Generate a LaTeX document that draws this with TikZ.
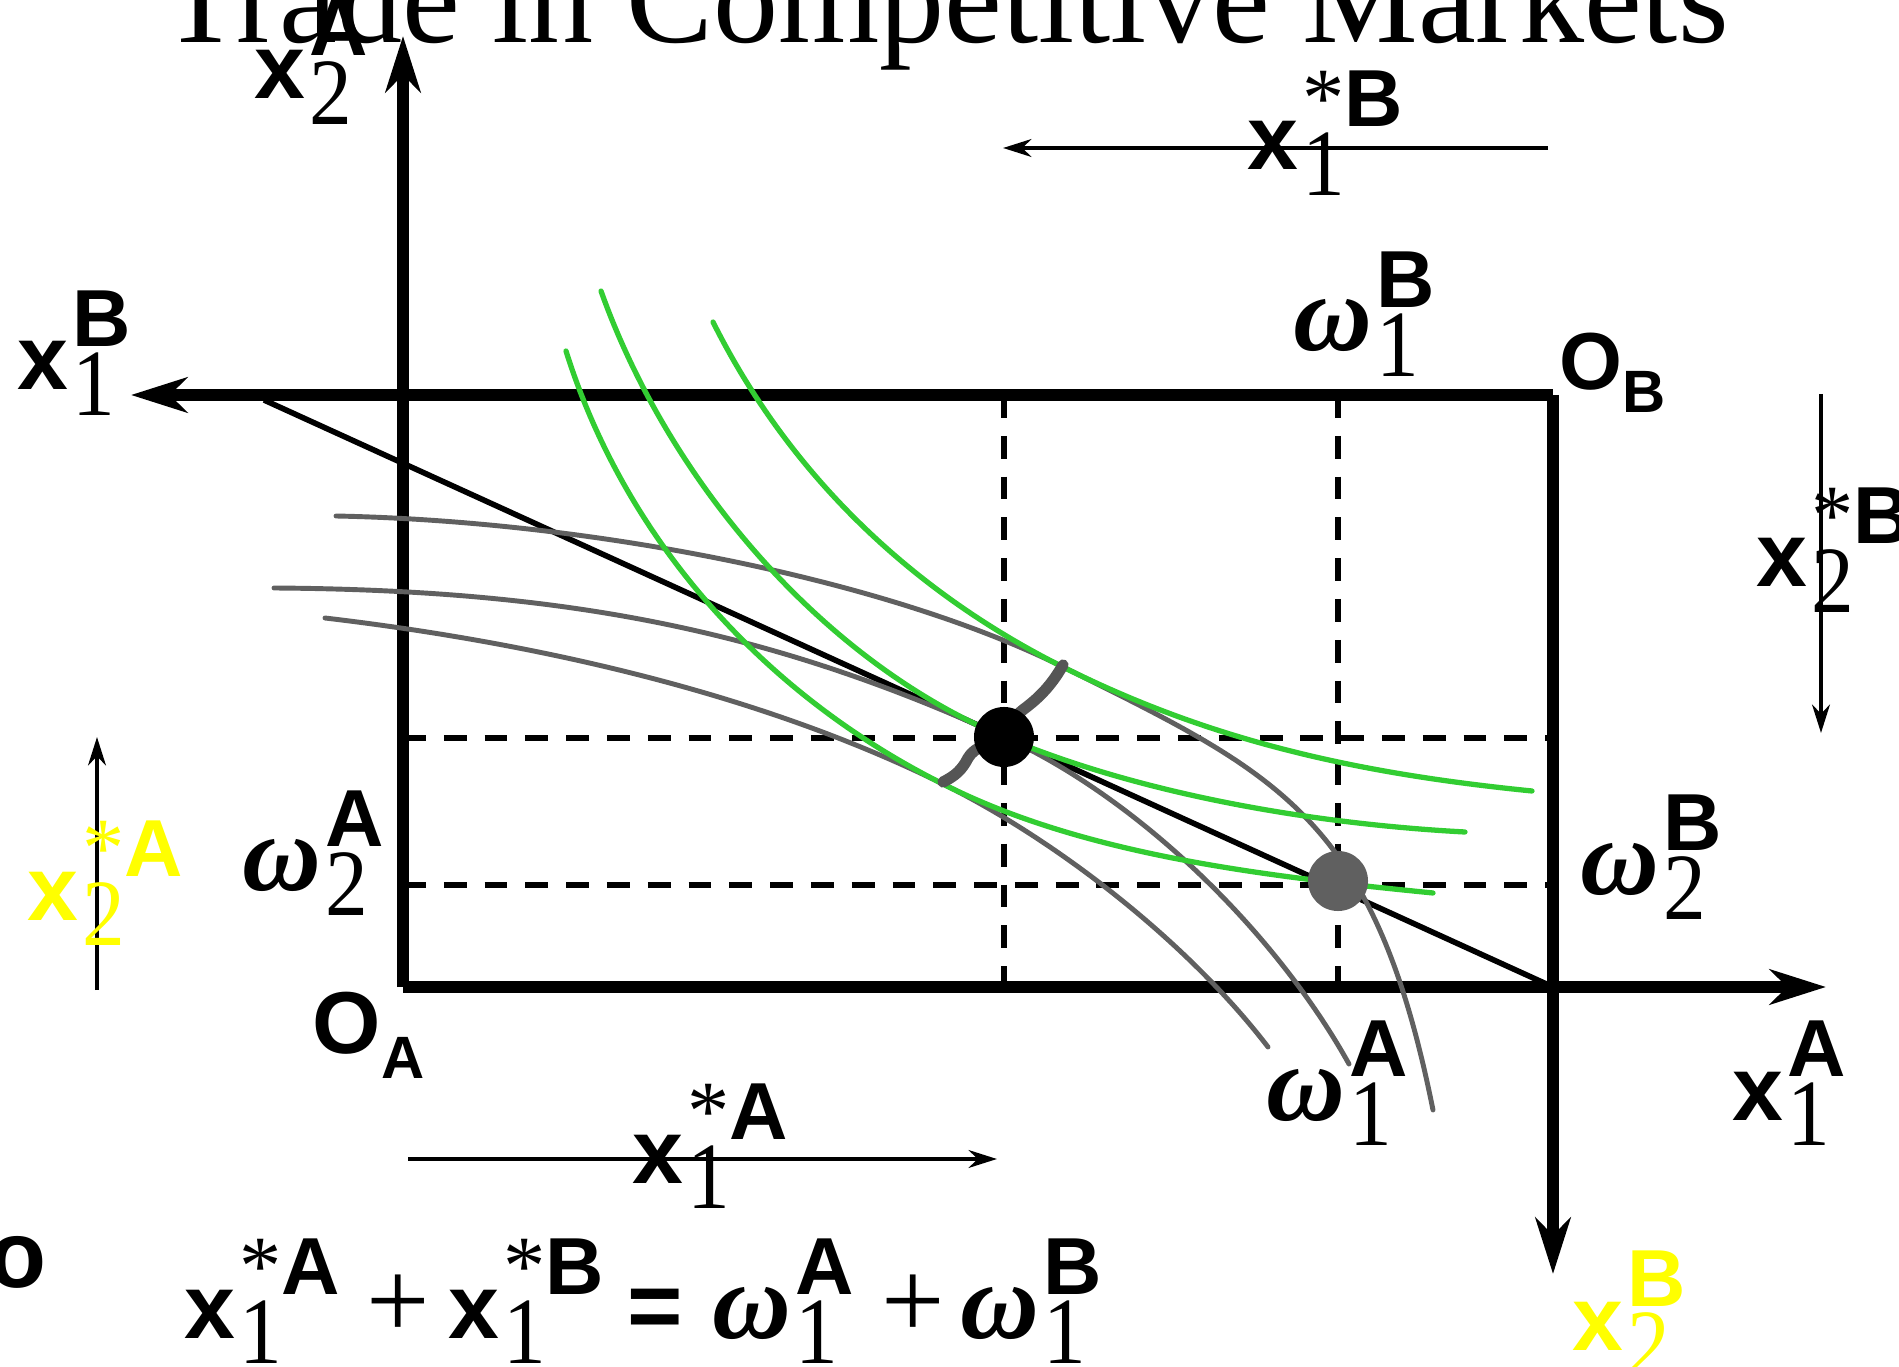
\documentclass[tikz,border=0pt]{standalone}
\usepackage{fontspec}
\usetikzlibrary{arrows.meta}
\newfontfamily\LS{Liberation Sans}
\newfontfamily\LSerif{Liberation Serif}
\definecolor{curvegreen}{RGB}{50,205,50}
\definecolor{curvegrey}{RGB}{96,96,96}
\definecolor{strokegrey}{RGB}{85,85,85}
\definecolor{ylw}{RGB}{255,255,0}
\newcommand\xx{{\fontsize{26}{26}\selectfont\LS\bfseries x}}
\newcommand\om{{\fontsize{31}{31}\selectfont\LSerif\bfseries\itshape ω}}
\newcommand\st{{\fontsize{24}{24}\selectfont\LSerif *}}
\newcommand\SupL[1]{{\fontsize{23}{23}\selectfont\LS\bfseries #1}}
\newcommand\SubD[1]{{\fontsize{27}{27}\selectfont\LSerif\scalebox{0.9}[1]{#1}}}
\newcommand\lab[3]{#1\kern1.2pt\rlap{\raisebox{-7.2pt}{\SubD{#2}}}\raisebox{12.5pt}{#3}}
\begin{document}
\begin{tikzpicture}[x=0.01cm,y=-0.01cm,
  axis/.style={line width=3.2pt,-{Stealth[length=16pt,width=10pt,inset=5pt]}},
  small/.style={line width=1.3pt,-{Stealth[length=8pt,width=5pt,inset=2.5pt]}},
  guide/.style={line width=1.7pt,dash pattern=on 6.5pt off 5.1pt},
  budget/.style={line width=1.6pt},
  icA/.style={curvegreen,line width=1.5pt,line cap=round},
  icB/.style={curvegrey,line width=1.4pt,line cap=round},
  lbl/.style={inner sep=0pt,anchor=base west}]
\useasboundingbox (0,0) rectangle (1899,1367);
\clip (0,0) rectangle (1899,1367);
% key points
\coordinate (OA) at (403,987);
\coordinate (OB) at (1553,395);
\coordinate (A2tip) at (403,36);
\coordinate (A1tip) at (1826,987);
\coordinate (B1tip) at (131,395);
\coordinate (B2tip) at (1553,1274);
\coordinate (BL1) at (264,400);
\coordinate (BL2) at (1553,987);
% dashed guides
\coordinate (v1t) at (1004,395); \coordinate (v1b) at (1004,987);
\coordinate (v2t) at (1338,395); \coordinate (v2b) at (1338,987);
\coordinate (h1l) at (403,738); \coordinate (h1r) at (1553,738);
\coordinate (h2l) at (403,885); \coordinate (h2r) at (1553,885);
\draw[guide] (v1t) -- (v1b);
\draw[guide] (v2t) -- (v2b);
\draw[guide] (h1l) -- (h1r);
\draw[guide] (h2l) -- (h2r);
% axes
\draw[axis] (OA) -- (A2tip);
\draw[axis] (OA) -- (A1tip);
\draw[axis] (OB) -- (B1tip);
\draw[axis] (OB) -- (B2tip);
% budget line
\draw[budget] (BL1) -- (BL2);
% curve anchor points
\coordinate (E) at (1004,737);   % equilibrium
\coordinate (T1) at (1063,667);  % upper tangency
\coordinate (T2) at (945,785);   % lower tangency
% B's indifference curves (grey)
\coordinate (r1s) at (336,516); \coordinate (r1e) at (1433,1110);
\draw[icB] (r1s) .. controls (586,521) and (884,578) .. (T1)
  .. controls (1278,774) and (1374,816) .. (r1e);
\coordinate (r2s) at (274,588); \coordinate (r2e) at (1349,1064);
\draw[icB] (r2s) .. controls (574,590) and (776,633) .. (E)
  .. controls (1140,799) and (1276,933) .. (r2e);
\coordinate (r3s) at (325,618); \coordinate (r3e) at (1268,1047);
\draw[icB] (r3s) .. controls (545,644) and (766,696) .. (T2)
  .. controls (1061,843) and (1189,944) .. (r3e);
% A's indifference curves (green)
\coordinate (g1s) at (566,351); \coordinate (g1e) at (1433,893);
\draw[icA] (g1s) .. controls (626,542) and (766,696) .. (T2)
  .. controls (1088,857) and (1274,877) .. (g1e);
\coordinate (g2s) at (601,291); \coordinate (g2e) at (1465,832);
\draw[icA] (g2s) .. controls (668,479) and (820,660) .. (E)
  .. controls (1142,795) and (1315,824) .. (g2e);
\coordinate (g3s) at (713,322); \coordinate (g3e) at (1532,791);
\draw[icA] (g3s) .. controls (789,474) and (911,591) .. (T1)
  .. controls (1215,743) and (1363,774) .. (g3e);
% contract curve piece
\draw[strokegrey,line width=3.2pt,line cap=round,line join=round]
  (1063,665) .. controls (1050,688) and (1036,700) .. (1024,709)
  .. controls (1012,718) and (1008,728) .. (E)
  .. controls (990,744) and (975,746) .. (968,758)
  .. controls (962,770) and (955,776) .. (943,782);
% points
\node[circle,fill=curvegrey,minimum size=0.6cm,inner sep=0pt] (endow) at (1338,881) {};
\node[circle,fill=black,minimum size=0.6cm,inner sep=0pt] (equil) at (E) {};
% small arrows
\coordinate (s1a) at (1548,148); \coordinate (s1b) at (1003,148);
\coordinate (s2a) at (1821,394); \coordinate (s2b) at (1821,733);
\coordinate (s3a) at (97,990); \coordinate (s3b) at (97,737);
\coordinate (s4a) at (408,1159); \coordinate (s4b) at (997,1159);
\draw[small] (s1a) -- (s1b);
\draw[small] (s2a) -- (s2b);
\draw[small] (s3a) -- (s3b);
\draw[small] (s4a) -- (s4b);
% title
\node[inner sep=0pt,anchor=base,font=\fontsize{37}{37}\selectfont\LSerif] (title) at (945,43) {Trade in Competitive Markets};
% labels
\node[lbl] (lx2A) at (254,99) {\lab{\xx}{2}{\SupL{A}}};
\node[lbl] (lx1B) at (17,390) {\lab{\xx}{1}{\SupL{B}}};
\node[lbl] (lx1sB) at (1247,170) {\lab{\xx}{1}{\st\SupL{B}}};
\node[lbl] (lw1B) at (1293,351) {\lab{\om}{1}{\SupL{B}}};
\node[lbl] (lOB) at (1559,390) {{\fontsize{23}{23}\selectfont\LS\bfseries O}\raisebox{-6.5pt}{\fontsize{17}{17}\selectfont\LS\bfseries B}};
\node[lbl] (lx2sB) at (1756,587) {\lab{\xx}{2}{\st\SupL{B}}};
\node[lbl] (lw2B) at (1580,894) {\lab{\om}{2}{\SupL{B}}};
\node[lbl] (lx1A) at (1732,1120) {\lab{\xx}{1}{\SupL{A}}};
\node[lbl,text=ylw] (lx2B) at (1572,1350) {\lab{\xx}{2}{\SupL{B}}};
\node[lbl] (lw1A) at (1266,1120) {\lab{\om}{1}{\SupL{A}}};
\node[lbl] (lOA) at (312,1054) {{\fontsize{25}{25}\selectfont\LS\bfseries O}\raisebox{-7pt}{\fontsize{17}{17}\selectfont\LS\bfseries A}};
\node[lbl] (lw2A) at (242,890) {\lab{\om}{2}{\SupL{A}}};
\node[lbl,text=ylw] (lx2sA) at (27,920) {\lab{\xx}{2}{\st\SupL{A}}};
\node[lbl] (lx1sA) at (632,1183) {\lab{\xx}{1}{\st\SupL{A}}};
\node[inner sep=0pt,anchor=base east,font=\fontsize{27}{27}\selectfont\LS\bfseries] (lo) at (47,1287) {o};
% equation
\node[lbl] (e1) at (184,1338) {\lab{\xx}{1}{\st\SupL{A}}};
\node[lbl,font=\fontsize{32}{32}\selectfont\LSerif] (e2) at (366,1338) {+};
\node[lbl] (e3) at (448,1338) {\lab{\xx}{1}{\st\SupL{B}}};
\node[lbl,font=\fontsize{27}{27}\selectfont\LS\bfseries] (e4) at (627,1338) {=};
\node[lbl] (e5) at (712,1338) {\lab{\om}{1}{\SupL{A}}};
\node[lbl,font=\fontsize{32}{32}\selectfont\LSerif] (e6) at (881,1338) {+};
\node[lbl] (e7) at (960,1338) {\lab{\om}{1}{\SupL{B}}};
\end{tikzpicture}
\end{document}
